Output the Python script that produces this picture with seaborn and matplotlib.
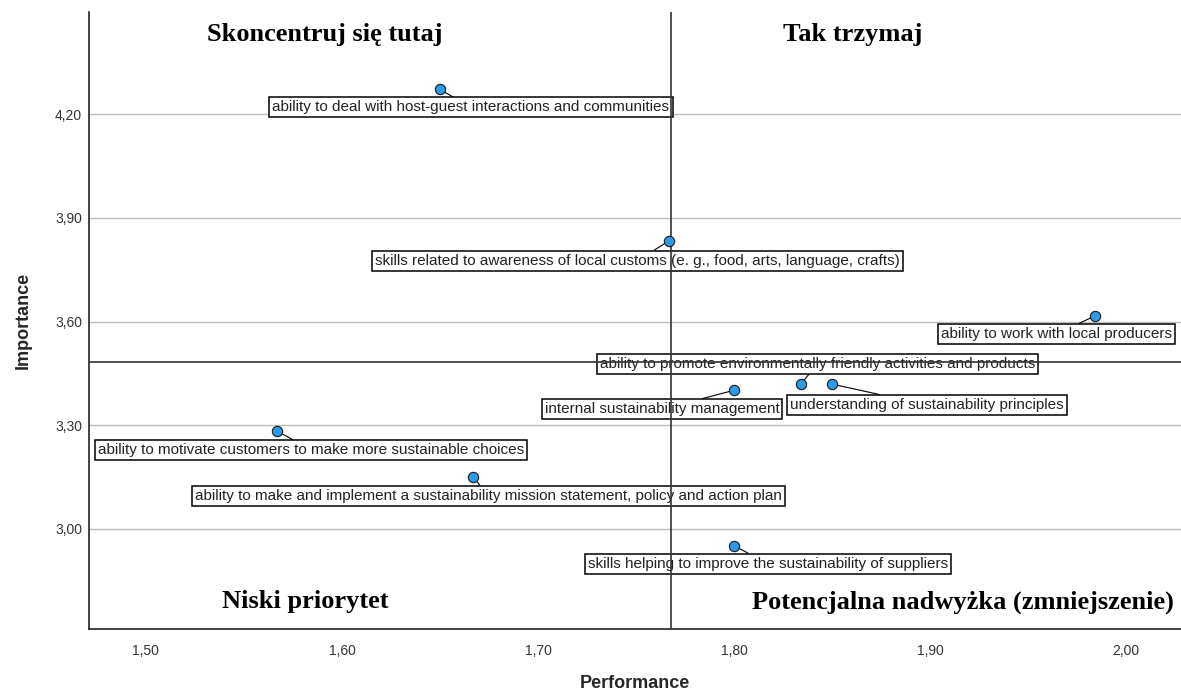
"""
Importance-Performance quadrant chart (IPA)
"""

import numpy as np
import pandas as pd
import matplotlib
matplotlib.use("Agg")
import matplotlib.pyplot as plt
from matplotlib.ticker import FuncFormatter, FixedLocator
import seaborn as sns

# ── Data ─────────────────────────────────────────────────────────
SKILLS = [
    "ability to deal with host-guest interactions and communities",
    "skills related to awareness of local customs (e. g., food, arts, language, crafts)",
    "ability to work with local producers",
    "ability to promote environmentally friendly activities and products",
    "internal sustainability management",
    "understanding of sustainability principles",
    "ability to motivate customers to make more sustainable choices",
    "ability to make and implement a sustainability mission statement, policy and action plan",
    "skills helping to improve the sustainability of suppliers",
]
PERFORMANCE = [1.650, 1.767, 1.984, 1.834, 1.800, 1.850, 1.567, 1.667, 1.800]
IMPORTANCE = [4.272, 3.834, 3.616, 3.419, 3.401, 3.419, 3.283, 3.150, 2.951]

MEAN_PERFORMANCE = 1.768
MEAN_IMPORTANCE = 3.483

X_TICKS = [1.50, 1.60, 1.70, 1.80, 1.90, 2.00]
Y_TICKS = [3.00, 3.30, 3.60, 3.90, 4.20]

QUADRANTS = ["Skoncentruj się tutaj", "Tak trzymaj",
             "Niski priorytet", "Potencjalna nadwyżka (zmniejszenie)"]

# label box offsets from the point, in pixels (layout only)
LABEL_OFFSETS = [(31, -18), (-32, -20), (-38, -18), (17, 20), (-72, -19),
                 (95, -21), (34, -19), (15, -19), (34, -18)]
QUAD_POS = [(0.216, 0.963), (0.699, 0.963), (0.198, 0.044), (0.800, 0.044)]

df = pd.DataFrame({"skill": SKILLS, "Performance": PERFORMANCE, "Importance": IMPORTANCE})

# ── Plot ─────────────────────────────────────────────────────────
sns.set_style("white")
plt.rcParams["font.family"] = ["Liberation Sans", "DejaVu Sans"]

fig = plt.figure(figsize=(11.81, 6.94), dpi=100)
ax = fig.add_axes([0.0754, 0.0937, 0.9246, 0.889])

ax.set_xlim(1.471, 2.028)
ax.set_ylim(2.71, 4.496)

for y in Y_TICKS:
    ax.axhline(y, color="#bdbdbd", lw=1, zorder=0)

ax.axvline(MEAN_PERFORMANCE, color="#333333", lw=1.2, zorder=4)
ax.axhline(MEAN_IMPORTANCE, color="#333333", lw=1.2, zorder=4)

sns.scatterplot(data=df, x="Performance", y="Importance", ax=ax,
                s=55, color="#2b9be8", edgecolor="#1a1a1a", linewidth=0.8, zorder=5)

for (name, px, py), (dx, dy) in zip(zip(SKILLS, PERFORMANCE, IMPORTANCE), LABEL_OFFSETS):
    ax.annotate(name, xy=(px, py), xytext=(dx, dy), textcoords="offset pixels",
                ha="center", va="center", fontsize=11, color="#222222", zorder=3,
                bbox=dict(boxstyle="square,pad=0.2", fc="white", ec="black", lw=1.1),
                arrowprops=dict(arrowstyle="-", color="black", lw=0.8,
                                shrinkA=0, shrinkB=3))

for txt, (qx, qy) in zip(QUADRANTS, QUAD_POS):
    ax.text(qx, qy, txt, transform=ax.transAxes, ha="center", va="center",
            fontsize=19, fontweight="bold", family="Liberation Serif", color="black")

fmt = FuncFormatter(lambda v, _: f"{v:.2f}".replace(".", ","))
ax.xaxis.set_major_locator(FixedLocator(X_TICKS))
ax.yaxis.set_major_locator(FixedLocator(Y_TICKS))
ax.xaxis.set_major_formatter(fmt)
ax.yaxis.set_major_formatter(fmt)
ax.tick_params(axis="both", length=0, labelsize=10, labelcolor="#333333")
ax.tick_params(axis="x", pad=11)
ax.tick_params(axis="y", pad=5)

ax.set_xlabel("Performance", fontsize=13, fontweight="bold", labelpad=12)
ax.set_ylabel("Importance", fontsize=13, fontweight="bold", labelpad=17)

sns.despine(ax=ax, top=True, right=True)
for sp in ["left", "bottom"]:
    ax.spines[sp].set_color("#222222")
    ax.spines[sp].set_linewidth(1.2)

fig.savefig("out.png", dpi=100)
